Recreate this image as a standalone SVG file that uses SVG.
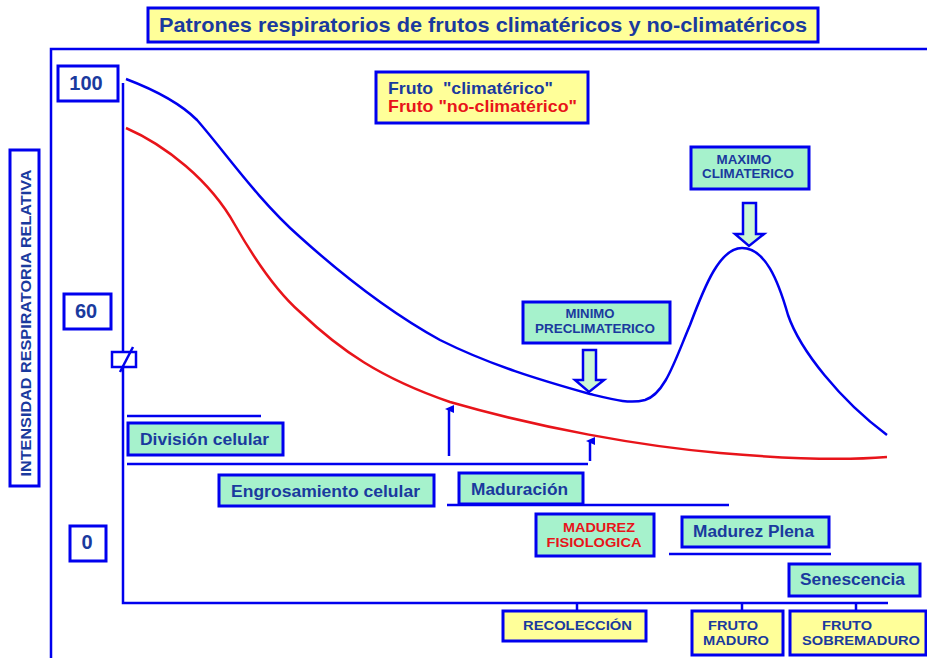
<svg xmlns="http://www.w3.org/2000/svg" width="927" height="658" viewBox="0 0 927 658">
<style>
.ln{stroke:#0000ee;stroke-width:2.5;fill:none}
.gb{fill:#a6f2cc;stroke:#0000ee;stroke-width:3}
.yb{fill:#ffff99;stroke:#0000ee;stroke-width:3}
.wb{fill:#ffffff;stroke:#0000ee;stroke-width:3}
.t{font-family:"Liberation Sans",Arial,sans-serif;font-weight:bold;fill:#1a3a9e}
.r{fill:#e8141a}
.ha{fill:#ccf7d6;stroke:#0000ee;stroke-width:2.5}
</style>
<defs>
<marker id="ah" markerWidth="8" markerHeight="9" refX="4" refY="4" orient="auto" markerUnits="userSpaceOnUse">
<path d="M0,9 L4,0 L8,9 Z" fill="#0000ee"/>
</marker>
</defs>
<rect width="927" height="658" fill="#ffffff"/>

<g id="title">
<rect x="148" y="8" width="670" height="34" class="yb"/>
<text x="483" y="32" class="t" font-size="21" text-anchor="middle" textLength="648" lengthAdjust="spacingAndGlyphs">Patrones respiratorios de frutos climatéricos y no-climatéricos</text>
</g>

<g id="frame">
<path d="M51,658 V49 H927" class="ln"/>
</g>

<g id="ylabel">
<rect x="10" y="150" width="29" height="336" class="wb"/>
<text transform="translate(31,323) rotate(-90)" x="0" y="0" class="t" font-size="14" text-anchor="middle" textLength="307" lengthAdjust="spacingAndGlyphs">INTENSIDAD RESPIRATORIA RELATIVA</text>
</g>

<g id="y100">
<rect x="58" y="66" width="60" height="35" class="wb"/>
<text x="86" y="90" class="t" font-size="20" text-anchor="middle">100</text>
</g>
<g id="y60">
<rect x="64" y="294" width="47" height="35" class="wb"/>
<text x="86" y="318" class="t" font-size="20" text-anchor="middle">60</text>
</g>
<g id="y0">
<rect x="70" y="526" width="36" height="35" class="wb"/>
<text x="87" y="549" class="t" font-size="20" text-anchor="middle">0</text>
</g>

<g id="legend">
<rect x="376" y="72" width="212" height="51" class="yb"/>
<text x="388" y="94" class="t" font-size="17" xml:space="preserve" textLength="165" lengthAdjust="spacingAndGlyphs">Fruto  "climatérico"</text>
<text x="388" y="112" class="t r" font-size="17" textLength="189" lengthAdjust="spacingAndGlyphs">Fruto "no-climatérico"</text>
</g>

<g id="axes">
<path d="M123,83 V603 H888" class="ln"/>
<rect x="112" y="352" width="24" height="15" fill="#ffffff" stroke="#0000ee" stroke-width="2.5"/>
<path d="M120,372 L133,347" class="ln"/>
</g>

<g id="curves">
<path d="M126,79 C155,90 180,103 197,120 C225,152 258,200 300,237 C350,282 400,318 440,340 C490,365 540,380 590,394 C615,400 630,404 645,400 C665,394 675,360 690,325 C705,285 720,248 742,248 C765,248 778,280 788,315 C800,350 840,400 887,435" fill="none" stroke="#0000ee" stroke-width="2.5"/>
<path d="M126,128 C165,145 210,180 235,225 C255,260 275,290 300,312 C340,350 380,378 450,402 C540,428 640,446 720,453 C800,460 850,460 887,457" fill="none" stroke="#e8141a" stroke-width="2.5"/>
</g>

<g id="connectors">
<path d="M127,416 H261" class="ln"/>
<path d="M127,464 H588" class="ln"/>
<path d="M447,505 H729" class="ln"/>
<path d="M669,554 H831" class="ln"/>
<path d="M449,456 V409" class="ln" marker-end="url(#ah)"/>
<path d="M590,461 V441" class="ln" marker-end="url(#ah)"/>
<path d="M577,603 V612 M742,603 V612 M856,603 V612" class="ln"/>
</g>

<g id="division">
<rect x="128" y="423" width="155" height="32" class="gb"/>
<text x="140" y="445" class="t" font-size="16" textLength="129" lengthAdjust="spacingAndGlyphs">División celular</text>
</g>
<g id="engrosamiento">
<rect x="219" y="475" width="215" height="31" class="gb"/>
<text x="231" y="497" class="t" font-size="16" textLength="189" lengthAdjust="spacingAndGlyphs">Engrosamiento celular</text>
</g>
<g id="maduracion">
<rect x="459" y="473" width="124" height="31" class="gb"/>
<text x="471" y="495" class="t" font-size="16" textLength="97" lengthAdjust="spacingAndGlyphs">Maduración</text>
</g>
<g id="fisiologica">
<rect x="536" y="514" width="118" height="42" class="gb"/>
<text x="599" y="532" class="t r" font-size="13" text-anchor="middle" textLength="72" lengthAdjust="spacingAndGlyphs">MADUREZ</text>
<text x="594" y="547" class="t r" font-size="13" text-anchor="middle" textLength="95" lengthAdjust="spacingAndGlyphs">FISIOLOGICA</text>
</g>
<g id="plena">
<rect x="682" y="517" width="147" height="30" class="gb"/>
<text x="693" y="537" class="t" font-size="16" textLength="121" lengthAdjust="spacingAndGlyphs">Madurez Plena</text>
</g>
<g id="senescencia">
<rect x="789" y="564" width="131" height="32" class="gb"/>
<text x="800" y="585" class="t" font-size="16" textLength="105" lengthAdjust="spacingAndGlyphs">Senescencia</text>
</g>
<g id="recoleccion">
<rect x="503" y="611" width="143" height="30" class="yb"/>
<text x="523" y="630" class="t" font-size="13" textLength="109" lengthAdjust="spacingAndGlyphs">RECOLECCIÓN</text>
</g>
<g id="maduro">
<rect x="692" y="611" width="91" height="44" class="yb"/>
<text x="733" y="630" class="t" font-size="13" text-anchor="middle" textLength="50" lengthAdjust="spacingAndGlyphs">FRUTO</text>
<text x="736" y="645" class="t" font-size="13" text-anchor="middle" textLength="66" lengthAdjust="spacingAndGlyphs">MADURO</text>
</g>
<g id="sobremaduro">
<rect x="790" y="611" width="136" height="44" class="yb"/>
<text x="847" y="630" class="t" font-size="13" text-anchor="middle" textLength="50" lengthAdjust="spacingAndGlyphs">FRUTO</text>
<text x="861" y="645" class="t" font-size="13" text-anchor="middle" textLength="118" lengthAdjust="spacingAndGlyphs">SOBREMADURO</text>
</g>

<g id="minimo">
<rect x="523" y="302" width="147" height="41" class="gb"/>
<text x="590" y="318" class="t" font-size="12" text-anchor="middle" textLength="49" lengthAdjust="spacingAndGlyphs">MINIMO</text>
<text x="595" y="333" class="t" font-size="12" text-anchor="middle" textLength="120" lengthAdjust="spacingAndGlyphs">PRECLIMATERICO</text>
<path d="M583,350 H596 V380 H604 L589,392 L575,380 H583 Z" class="ha"/>
</g>
<g id="maximo">
<rect x="691" y="147" width="118" height="42" class="gb"/>
<text x="744" y="164" class="t" font-size="12" text-anchor="middle" textLength="55" lengthAdjust="spacingAndGlyphs">MAXIMO</text>
<text x="748" y="178" class="t" font-size="12" text-anchor="middle" textLength="92" lengthAdjust="spacingAndGlyphs">CLIMATERICO</text>
<path d="M743,203 H756 V234 H764 L749,246 L735,234 H743 Z" class="ha"/>
</g>
</svg>
